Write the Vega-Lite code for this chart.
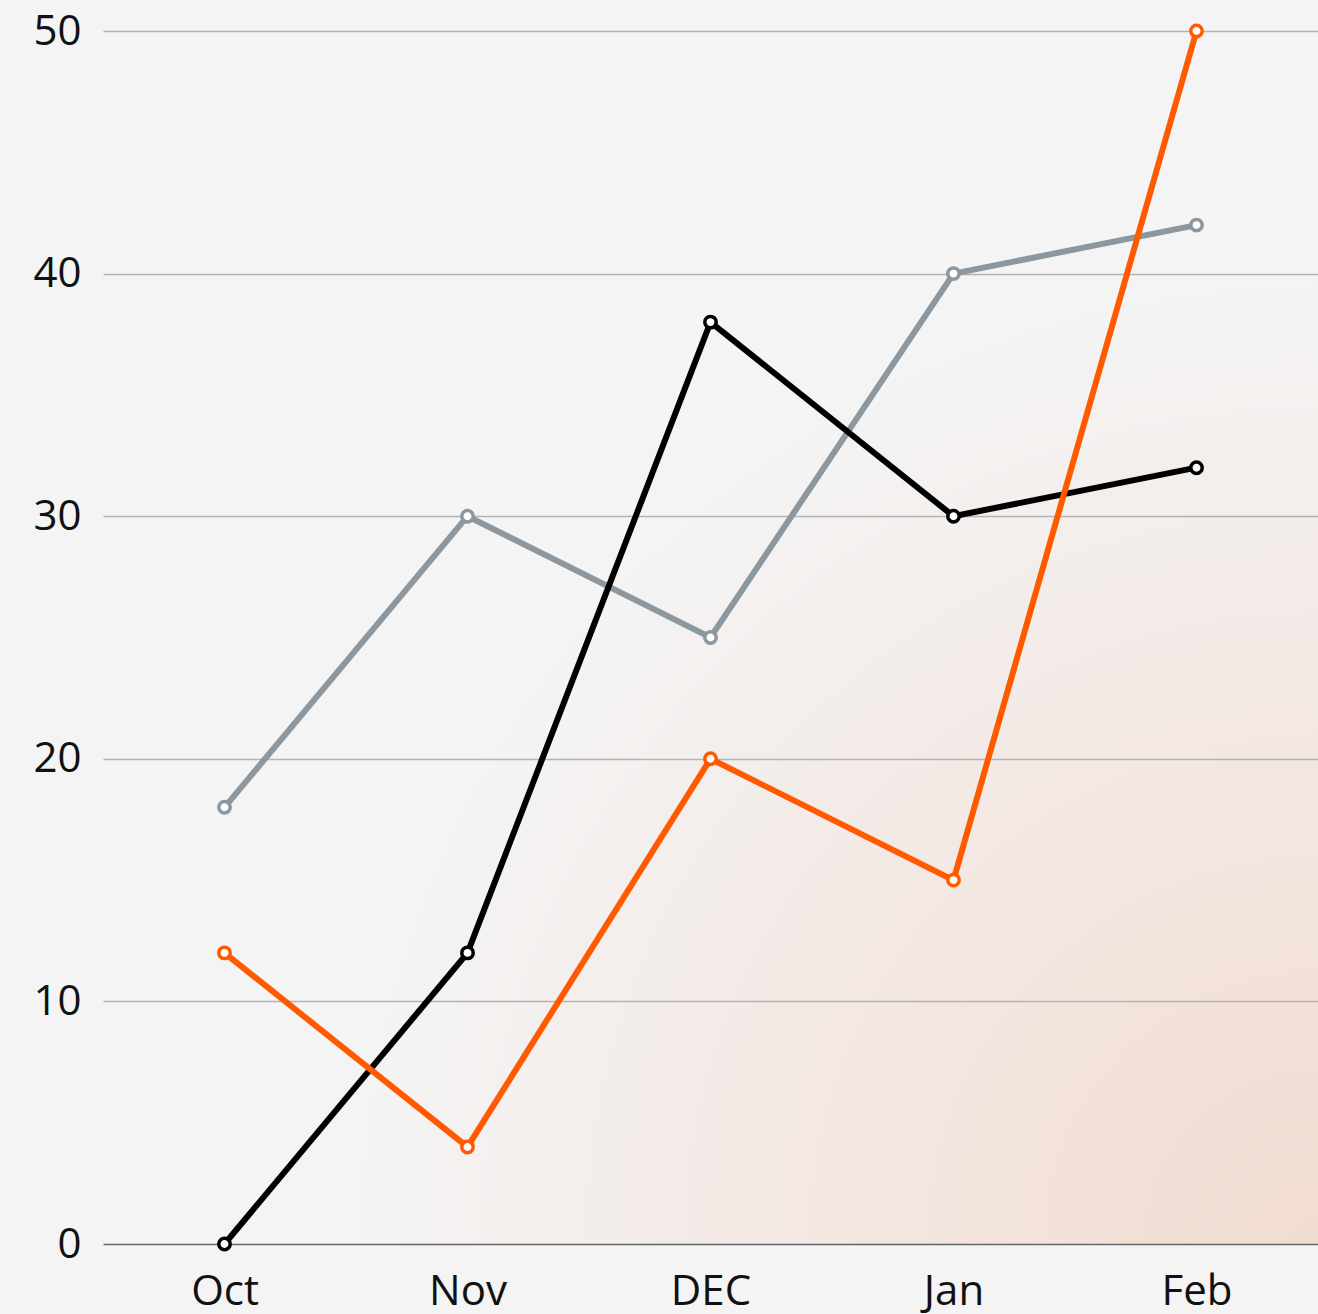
{
  "$schema": "https://vega.github.io/schema/vega-lite/v6.json",
  "width": 1215,
  "height": 1213,
  "autosize": "none",
  "padding": {"left": 103, "top": 31, "right": 0, "bottom": 70},
  "background": "#f4f4f4",
  "config": {
    "view": {
      "stroke": null,
      "fill": {
        "gradient": "radial",
        "x1": 1, "y1": 1, "r1": 0,
        "x2": 1, "y2": 1, "r2": 0.8,
        "stops": [
          {"offset": 0, "color": "#f1dcd0"},
          {"offset": 0.5, "color": "#f3e7e2"},
          {"offset": 1, "color": "#f4f4f4"}
        ]
      }
    },
    "font": "Open Sans"
  },
  "data": {
    "values": [
      {"month": "Oct", "series": "A", "value": 18},
      {"month": "Nov", "series": "A", "value": 30},
      {"month": "DEC", "series": "A", "value": 25},
      {"month": "Jan", "series": "A", "value": 40},
      {"month": "Feb", "series": "A", "value": 42},
      {"month": "Oct", "series": "B", "value": 0},
      {"month": "Nov", "series": "B", "value": 12},
      {"month": "DEC", "series": "B", "value": 38},
      {"month": "Jan", "series": "B", "value": 30},
      {"month": "Feb", "series": "B", "value": 32},
      {"month": "Oct", "series": "C", "value": 12},
      {"month": "Nov", "series": "C", "value": 4},
      {"month": "DEC", "series": "C", "value": 20},
      {"month": "Jan", "series": "C", "value": 15},
      {"month": "Feb", "series": "C", "value": 50}
    ]
  },
  "mark": {
    "type": "line",
    "strokeWidth": 6,
    "point": {"filled": false, "fill": "white", "size": 130, "strokeWidth": 3.5}
  },
  "encoding": {
    "x": {
      "field": "month",
      "type": "ordinal",
      "sort": ["Oct", "Nov", "DEC", "Jan", "Feb"],
      "scale": {"type": "point", "padding": 0.5},
      "axis": {
        "title": null,
        "labelAngle": 0,
        "labelFontSize": 42,
        "labelColor": "#111",
        "labelPadding": 27,
        "ticks": false,
        "domain": false,
        "grid": false
      }
    },
    "y": {
      "field": "value",
      "type": "quantitative",
      "scale": {"domain": [0, 50], "nice": false},
      "axis": {
        "title": null,
        "values": [0, 10, 20, 30, 40, 50],
        "labelFontSize": 42,
        "labelColor": "#111",
        "labelPadding": 22,
        "ticks": false,
        "domain": false,
        "gridColor": {"condition": {"test": "datum.value === 0", "value": "#666666"}, "value": "#b3b3b3"},
        "gridWidth": 1.5,
        "gridOpacity": 1
      }
    },
    "color": {
      "field": "series",
      "type": "nominal",
      "scale": {"domain": ["A", "B", "C"], "range": ["#8c979f", "#000000", "#ff5a00"]},
      "legend": null
    }
  }
}
